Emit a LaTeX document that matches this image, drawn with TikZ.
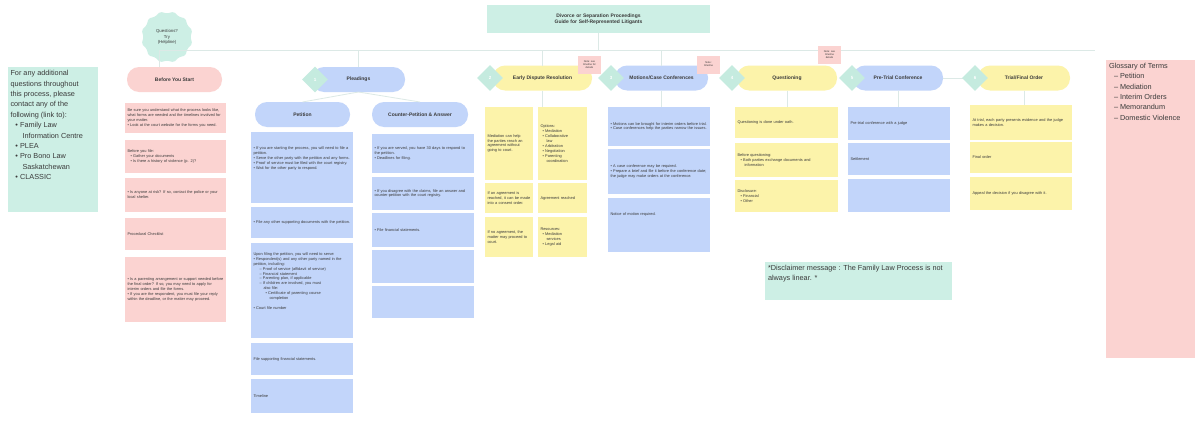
\documentclass[tikz,border=0pt]{standalone}
\usepackage{fontspec}
\setmainfont{Liberation Sans}
\usetikzlibrary{shapes.geometric,shapes.misc}
\hyphenpenalty=10000
\exhyphenpenalty=10000
\definecolor{cpink}{HTML}{FBD3D1}
\definecolor{cblue}{HTML}{C2D5FA}
\definecolor{cyel}{HTML}{FCF3AA}
\definecolor{cteal}{HTML}{CDEFE5}
\definecolor{cdia}{HTML}{C5EBDF}
\definecolor{cline}{HTML}{DCE9E6}
\definecolor{ctext}{HTML}{3A3A3A}
\tikzset{
 base/.style={inner sep=2.5pt, outer sep=0pt, text=ctext, align=left, font=\fontsize{3.9}{4.9}\selectfont},
 pinkbox/.style={base, fill=cpink},
 bluebox/.style={base, fill=cblue},
 yelbox/.style={base, fill=cyel},
 tealbox/.style={base, fill=cteal},
 bigtext/.style={inner sep=0pt, outer sep=0pt, text=ctext, align=left, anchor=north west, font=\fontsize{7.3}{10.4}\selectfont},
 pill/.style={rectangle, rounded corners=12pt, minimum height=25pt, inner sep=1pt, outer sep=0pt,
   font=\fontsize{5}{6}\selectfont\bfseries, text=ctext, align=center},
 stepdia/.style={diamond, fill=cdia, minimum width=26pt, minimum height=26pt, inner sep=0pt,
   text=white, font=\fontsize{4.5}{4.5}\selectfont\bfseries},
 note/.style={fill=cpink, inner sep=1pt, align=center, font=\fontsize{2.6}{3.1}\selectfont,
   text=ctext, minimum width=23pt, minimum height=18pt},
 conn/.style={draw=cline, line width=0.8pt},
}
\newcommand\cbox[7]{%
 \pgfmathsetmacro\myW{#5-#3}\pgfmathsetmacro\myH{#6-#4}\pgfmathsetmacro\myT{#5-#3-5}%
 \node[#1,anchor=north west,minimum width=\myW pt,minimum height=\myH pt,text width=\myT pt] (#2) at (#3,#4) {#7};}
\begin{document}
\begin{tikzpicture}[x=1pt,y=-1pt]
\fill[white] (0,0) rectangle (1199,423);
\useasboundingbox (0,0) rectangle (1199,423);

% ---------- top ----------
\cbox{tealbox,align=center,font=\fontsize{5}{6.5}\selectfont\bfseries}{title}{487}{5}{710}{33}{Divorce or Separation Proceedings\\Guide for Self-Represented Litigants}
\node[star, star points=12, star point ratio=0.9, minimum size=47pt, fill=cteal, inner sep=0pt,
  rounded corners=1.5pt, align=center, text=ctext, font=\fontsize{4.3}{5.4}\selectfont] (deca) at (167,37) {Questions?\\Try\\(Helpline)};

% ---------- headers ----------
\node[pill, fill=cpink, minimum width=95pt] (bys) at (174.5,79.5) {Before You Start};
\node[pill, fill=cblue, minimum width=93pt] (ple) at (358.5,79.5) {Pleadings};
\node[pill, fill=cblue, minimum width=95pt] (pet) at (302.5,114.5) {Petition};
\node[pill, fill=cblue, minimum width=96pt] (cpa) at (420,114.5) {Counter-Petition \& Answer};
\node[pill, fill=cyel, minimum width=99pt] (edr) at (542.5,78) {Early Dispute Resolution};
\node[pill, fill=cblue, minimum width=93pt] (mcc) at (661.5,78) {Motions/Case Conferences};
\node[pill, fill=cyel, minimum width=100pt] (que) at (787,78) {Questioning};
\node[pill, fill=cblue, minimum width=90pt] (ptc) at (898,78) {Pre-Trial Conference};
\node[pill, fill=cyel, minimum width=92pt] (tfo) at (1024,78) {Trial/Final Order};

% ---------- connectors ----------
\coordinate (hl0) at (159,50);
\coordinate (hl1) at (1095,50);
\draw[conn] (hl0) -- (hl1);
\draw[conn] (deca.south -| hl0) -- (hl0);
\draw[conn] (hl0) -- (hl0 |- bys.north);
\draw[conn] (title.south) -- (title.south |- hl0);
\draw[conn] (ple.north) -- (ple.north |- hl0);
\draw[conn] (edr.north) -- (edr.north |- hl0);
\draw[conn] (mcc.north) -- (mcc.north |- hl0);
\draw[conn] (ple.south) -- (pet.north);
\draw[conn] (ple.south) -- (cpa.north);
\draw[conn] (edr.south) -- ++(0,16);
\draw[conn] (mcc.south) -- ++(0,16);
\draw[conn] (que.south) -- ++(0,16);
\draw[conn] (ptc.south) -- ++(0,16);
\draw[conn] (tfo.south) -- ++(0,14);
\draw[conn] (ptc.east) -- (tfo.west);

% step diamonds
\node[stepdia] (d1) at (315,79.5) {1};
\node[stepdia] (d2) at (490,78) {2};
\node[stepdia] (d3) at (611,78) {3};
\node[stepdia] (d4) at (732,78) {4};
\node[stepdia] (d5) at (852,78) {5};
\node[stepdia] (d6) at (975,78) {6};

% sticky notes
\node[note] (n1) at (589.5,64.5) {Note: see\\timeline for\\details};
\node[note] (n2) at (708.5,64.5) {Note:\\timeline};
\node[note] (n3) at (829.5,55) {Note: see\\timeline\\details};

% ---------- side boxes ----------
\cbox{tealbox}{info}{8}{67}{98}{212}{}
\node[bigtext] (infotxt) at (10.5,70.5) {For any additional\\questions throughout\\this process, please\\contact any of the\\following (link to):\\
\hspace*{5pt}• Family Law\\\hspace*{12pt}Information Centre\\\hspace*{5pt}• PLEA\\\hspace*{5pt}• Pro Bono Law\\\hspace*{12pt}Saskatchewan\\\hspace*{5pt}• CLASSIC};
\cbox{pinkbox}{gloss}{1106}{60}{1195}{358}{}
\node[bigtext] (glosstxt) at (1109,63) {Glossary of Terms\\\hspace*{5pt}– Petition\\\hspace*{5pt}– Mediation\\\hspace*{5pt}– Interim Orders\\\hspace*{5pt}– Memorandum\\\hspace*{5pt}– Domestic Violence};
\cbox{tealbox}{disc}{765}{262}{952}{300}{}
\node[bigtext] (disctxt) at (768,265) {*Disclaimer message : The Family Law Process is not\\always linear. *};

% ---------- Before You Start ----------
\cbox{pinkbox}{b1}{125}{103}{226}{133}{Be sure you understand what the process looks like, what forms are needed and the timelines involved for your matter.\\• Look at the court website for the forms you need.}
\cbox{pinkbox}{b2}{125}{140}{226}{173}{Before you file:\\\hspace*{3pt}• Gather your documents\\\hspace*{3pt}• Is there a history of violence (p. 2)?}
\cbox{pinkbox}{b3}{125}{178}{226}{212}{• Is anyone at risk? If so, contact the police or your local shelter.}
\cbox{pinkbox}{b4}{125}{218}{226}{250}{Procedural Checklist}
\cbox{pinkbox}{b5}{125}{257}{226}{322}{• Is a parenting arrangement or support needed before the final order? If so, you may need to apply for interim orders and file the forms.\\• If you are the respondent, you must file your reply within the deadline, or the matter may proceed.}

% ---------- Petition ----------
\cbox{bluebox}{p1}{251}{132}{353}{203}{• If you are starting the process, you will need to file a petition.\\• Serve the other party with the petition and any forms.\\• Proof of service must be filed with the court registry.\\• Wait for the other party to respond.\\[14pt]\mbox{}}
\cbox{bluebox}{p2}{251}{207}{353}{238}{• File any other supporting documents with the petition.}
\cbox{bluebox}{p3}{251}{243}{353}{338}{Upon filing the petition, you will need to serve:\\
• Respondent(s) and any other party named in the petition, including:\\
\hspace*{6pt}– Proof of service (affidavit of service)\\
\hspace*{6pt}– Financial statement\\
\hspace*{6pt}– Parenting plan, if applicable\\
\hspace*{6pt}– If children are involved, you must\\\hspace*{10pt}also file:\\
\hspace*{12pt}• Certificate of parenting course\\\hspace*{16pt}completion\\[5pt]
• Court file number\\[14pt]\mbox{}}
\cbox{bluebox}{p4}{251}{343}{353}{375}{File supporting financial statements.}
\cbox{bluebox}{p5}{251}{379}{353}{413}{Timeline}

% ---------- Counter-Petition ----------
\cbox{bluebox}{c1}{372}{134}{474}{173}{• If you are served, you have 30 days to respond to the petition.\\• Deadlines for filing.}
\cbox{bluebox}{c2}{372}{177}{474}{210}{• If you disagree with the claims, file an answer and counter-petition with the court registry.}
\cbox{bluebox}{c3}{372}{213}{474}{247}{• File financial statements.}
\cbox{bluebox}{c4}{372}{250}{474}{283}{}
\cbox{bluebox}{c5}{372}{286}{474}{318}{}

% ---------- Early Dispute Resolution ----------
\cbox{yelbox}{e1}{485}{107}{533}{180}{Mediation can help the parties reach an agreement without going to court.}
\cbox{yelbox}{e2}{538}{107}{587}{180}{Options:\\\hspace*{2pt}• Mediation\\\hspace*{2pt}• Collaborative\\\hspace*{6pt}law\\\hspace*{2pt}• Arbitration\\\hspace*{2pt}• Negotiation\\\hspace*{2pt}• Parenting\\\hspace*{6pt}coordination}
\cbox{yelbox}{e3}{485}{183}{533}{213}{If an agreement is reached, it can be made into a consent order.}
\cbox{yelbox}{e4}{538}{183}{587}{213}{Agreement reached}
\cbox{yelbox}{e5}{485}{217}{533}{257}{If no agreement, the matter may proceed to court.}
\cbox{yelbox}{e6}{538}{217}{587}{257}{Resources:\\\hspace*{2pt}• Mediation\\\hspace*{6pt}services\\\hspace*{2pt}• Legal aid}

% ---------- Motions ----------
\cbox{bluebox}{m1}{608}{107}{710}{146}{• Motions can be brought for interim orders before trial.\\• Case conferences help the parties narrow the issues.}
\cbox{bluebox}{m2}{608}{149}{710}{194}{• A case conference may be required.\\• Prepare a brief and file it before the conference date; the judge may make orders at the conference.}
\cbox{bluebox}{m3}{608}{198}{710}{252}{Notice of motion required.\\[16pt]\mbox{}}

% ---------- Questioning ----------
\cbox{yelbox}{q1}{735}{107}{838}{138}{Questioning is done under oath.}
\cbox{yelbox}{q2}{735}{143}{838}{177}{Before questioning:\\\hspace*{3pt}• Both parties exchange documents and\\\hspace*{7pt}information}
\cbox{yelbox}{q3}{735}{180}{838}{212}{Disclosure:\\\hspace*{3pt}• Financial\\\hspace*{3pt}• Other}

% ---------- Pre-Trial ----------
\cbox{bluebox}{t1}{848}{107}{950}{140}{Pre-trial conference with a judge}
\cbox{bluebox}{t2}{848}{143}{950}{175}{Settlement}
\cbox{bluebox}{t3}{848}{179}{950}{212}{}

% ---------- Trial ----------
\cbox{yelbox}{f1}{970}{105}{1072}{140}{At trial, each party presents evidence and the judge makes a decision.}
\cbox{yelbox}{f2}{970}{142}{1072}{173}{Final order}
\cbox{yelbox}{f3}{970}{177}{1072}{210}{Appeal the decision if you disagree with it.}
\end{tikzpicture}
\end{document}
